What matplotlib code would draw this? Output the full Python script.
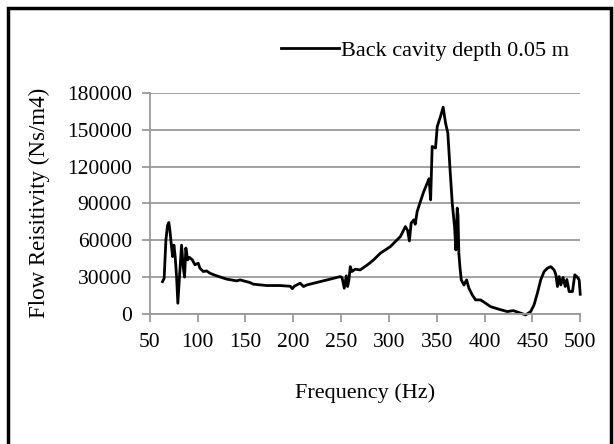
import matplotlib
matplotlib.use('Agg')
import matplotlib.pyplot as plt
from matplotlib.patches import Rectangle

# Data
freq = [63.3, 65.0, 66.8, 68.5, 69.9, 71.0, 72.0, 73.8, 75.2, 76.5, 78.0, 79.3,
        81.0, 83.2, 84.9, 86.3, 87.7, 89.5, 91.5, 94.4, 97.2, 100.6, 102.4,
        105.9, 109.4, 112.9, 119.9, 130.4, 140.9, 144.3, 154.8, 158.3, 172.3,
        186.2, 197.0, 199.0, 201.0, 207.2, 210.7, 214.2, 228.2, 238.6, 249.1,
        251.0, 253.3, 255.4, 256.8, 258.2, 259.6, 261.3, 264.8, 270.0, 278.8,
        284.0, 291.0, 301.5, 312.0, 317.2, 319.5, 321.4, 323.2, 326.0, 327.5,
        329.5, 332.3, 336.4, 340.0, 342.0, 343.6, 345.2, 348.7, 350.5, 353.9,
        356.7, 359.2, 361.6, 363.7, 366.2, 368.6, 370.0, 371.4, 372.2, 373.1,
        374.2, 375.6, 378.4, 381.2, 383.6, 387.1, 390.6, 395.8, 401.1, 406.3,
        415.0, 423.8, 430.0, 437.8, 443.0, 448.2, 451.7, 455.2, 458.7, 462.2,
        465.7, 469.2, 472.7, 474.5, 476.2, 477.9, 479.7, 482.0, 484.3, 486.0,
        488.4, 491.9, 494.3, 496.4, 498.9, 500.0]
resistivity = [26300, 29000, 60000, 72000, 74400, 68000, 60000, 46700, 56000,
               46700, 30000, 8700, 30000, 56000, 38500, 30000, 53700, 44000,
               46000, 44000, 40000, 41300, 37200, 34500, 35000, 33100, 31000,
               28300, 26900, 27700, 25500, 24200, 23100, 23100, 22500, 20500,
               22500, 25000, 22300, 23600, 26300, 28300, 30400, 29500, 20900,
               31000, 22300, 28000, 38500, 34500, 36400, 35800, 40700, 44000,
               49400, 54800, 63000, 71100, 68000, 59400, 73900, 76600, 73000,
               83300, 90100, 99600, 106400, 110000, 92900, 136300, 135000,
               152500, 160700, 168300, 155300, 147200, 120000, 90000, 71100,
               52100, 86100, 80000, 49400, 38500, 27700, 23600, 27700, 20900,
               15500, 11400, 11400, 8700, 5900, 3800, 1900, 2700, 570, -800,
               1900, 7300, 16900, 27700, 34500, 37200, 38500, 35800, 32000,
               22300, 30400, 23600, 29700, 22300, 28000, 18200, 18200, 31800,
               30400, 27700, 16000]

x_ticks = list(range(50, 501, 50))
y_ticks = list(range(0, 180001, 30000))

plt.rcParams['font.family'] = 'Liberation Serif'
grey = '#9a9a9a'

fig = plt.figure(figsize=(6.14, 4.44), dpi=100)
ax = fig.add_axes([0.244, 0.293, 0.701, 0.498])

ax.plot(freq, resistivity, color='black', linewidth=2.0, clip_on=False,
        label='Back cavity depth 0.05 m')

ax.set_xlim(50, 500)
ax.set_ylim(0, 180000)
ax.set_xticks(x_ticks)
ax.set_yticks(y_ticks)
ax.grid(axis='y', color=grey, linewidth=1.3)
ax.set_axisbelow(True)
for side in ['top', 'right']:
    ax.spines[side].set_visible(False)
for side in ['left', 'bottom']:
    ax.spines[side].set_color(grey)
    ax.spines[side].set_linewidth(1.3)
ax.tick_params(axis='x', direction='out', length=6, width=1.3, color=grey,
               labelsize=15.5, pad=8)
ax.tick_params(axis='y', direction='out', length=6, width=1.3, color=grey,
               labelsize=15.5, pad=7)

ax.set_xlabel('Frequency (Hz)', fontsize=16, labelpad=22)
ax.set_ylabel('Flow Reisitivity (Ns/m4)', fontsize=16.5, labelpad=12)

ax.legend(loc='lower right', bbox_to_anchor=(0.995, 1.105), frameon=False,
          fontsize=16, handlelength=2.6, handletextpad=0.1,
          borderaxespad=0)

# Outer frame
fig.patches.append(Rectangle((0.013, -0.05), 0.982, 1.032,
                             transform=fig.transFigure, fill=False,
                             edgecolor='black', linewidth=2.5))

fig.savefig('out.png', dpi=100)
